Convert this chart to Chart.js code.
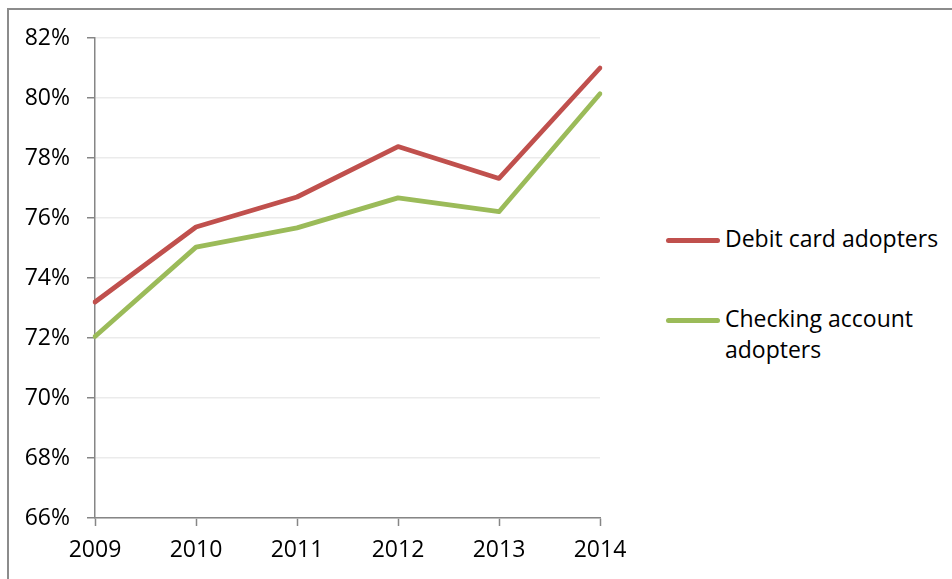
<!DOCTYPE html>
<html>
<head>
<meta charset="utf-8">
<script src="https://cdn.jsdelivr.net/npm/chart.js@4"></script>
<style>
	html, body { margin: 0; padding: 0; background: #fff; overflow: hidden; }
	body { width: 952px; height: 579px; position: relative; font-family: "Open Sans", sans-serif; }
	.frame { position: absolute; left: 7px; top: 8px; width: 1000px; height: 700px; border: 2px solid #8c8c8c; box-sizing: border-box; }
	.chart-box { position: absolute; left: 0; top: 0; width: 640px; height: 579px; }
	.legend { position: absolute; left: 666px; top: 0; }
	.legend-item { position: absolute; left: 0; white-space: nowrap; }
	.legend-line { position: absolute; left: 0; width: 54px; height: 5px; border-radius: 3px; }
	.legend-text { position: absolute; left: 59px; width: 240px; white-space: normal; font-size: 23px; line-height: 31px; color: #000; }
</style>
</head>
<body>
<div class="frame"></div>
<div class="chart-box"><canvas id="adopters"></canvas></div>
<div class="legend" id="legend"></div>
<script>
const years = ['2009', '2010', '2011', '2012', '2013', '2014'];
const debit_card = [73.2, 75.7, 76.7, 78.38, 77.32, 81.0];
const checking_account = [72.05, 75.03, 75.67, 76.67, 76.21, 80.14];
const series_names = ['Debit card adopters', 'Checking account adopters'];
const series_colors = ['#C0504D', '#9BBB59'];
const y_ticks = [66, 68, 70, 72, 74, 76, 78, 80, 82];

const axisGray = '#868686';
const tickFont = { family: '"Open Sans", sans-serif', size: 23 };

const data_adopters = {
	labels: years,
	datasets: [
		{
			label: series_names[0],
			data: debit_card,
			borderColor: series_colors[0],
			backgroundColor: series_colors[0],
			borderWidth: 4.75,
			pointRadius: 0,
			tension: 0,
			borderCapStyle: 'round',
			borderJoinStyle: 'round',
		},
		{
			label: series_names[1],
			data: checking_account,
			borderColor: series_colors[1],
			backgroundColor: series_colors[1],
			borderWidth: 4.75,
			pointRadius: 0,
			tension: 0,
			borderCapStyle: 'round',
			borderJoinStyle: 'round',
		},
	]
};

const config_adopters = {
	type: 'line',
	data: data_adopters,
	options: {
		responsive: true,
		maintainAspectRatio: false,
		animation: false,
		layout: {
			padding: { top: 38, right: 40, bottom: 0, left: 0 }
		},
		plugins: {
			legend: { display: false },
			title: { display: false },
			tooltip: { enabled: false }
		},
		scales: {
			x: {
				offset: false,
				grid: {
					display: true,
					drawOnChartArea: false,
					drawTicks: true,
					tickLength: 8,
					tickColor: axisGray,
					tickWidth: 1.5
				},
				border: { color: axisGray, width: 1.5 },
				ticks: {
					color: '#000',
					font: tickFont,
					padding: 11,
					maxRotation: 0
				},
				afterFit: scale => { scale.height = 61; }
			},
			y: {
				min: 66,
				max: 82,
				afterBuildTicks: scale => {
					scale.ticks = y_ticks.map(v => ({ value: v }));
				},
				grid: {
					color: '#ebebeb',
					lineWidth: 1.5,
					drawTicks: true,
					tickLength: 8,
					tickColor: axisGray,
					tickWidth: 1.5
				},
				border: { color: axisGray, width: 1.5 },
				ticks: {
					color: '#000',
					font: tickFont,
					padding: 17,
					callback: v => v + '%'
				},
				afterFit: scale => { scale.width = 95; }
			}
		}
	},
};

const adopters = new Chart(
	document.getElementById('adopters'),
	config_adopters
);

// legend on the right, wraps long names like the original
const legendTops = [240, 320];
const legendEl = document.getElementById('legend');
adopters.data.datasets.forEach((ds, i) => {
	const item = document.createElement('div');
	item.className = 'legend-item';
	item.style.top = legendTops[i] + 'px';
	const line = document.createElement('div');
	line.className = 'legend-line';
	line.style.background = ds.borderColor;
	line.style.top = '-2.5px';
	const text = document.createElement('div');
	text.className = 'legend-text';
	text.style.top = '-17px';
	text.textContent = ds.label;
	item.appendChild(line);
	item.appendChild(text);
	legendEl.appendChild(item);
});
</script>
</body>
</html>
